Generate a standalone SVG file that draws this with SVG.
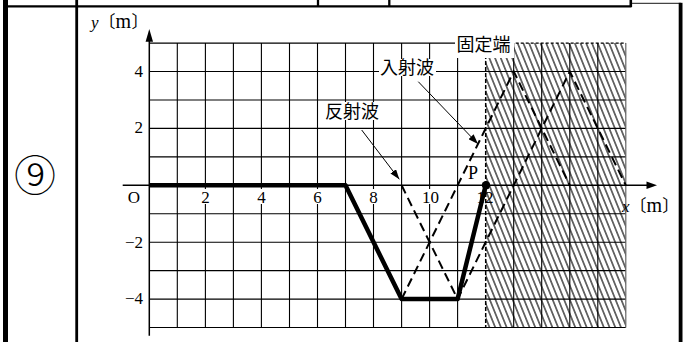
<svg xmlns="http://www.w3.org/2000/svg" width="683" height="342" viewBox="0 0 683 342">
<style>
.num{font-family:"Liberation Serif","Times New Roman",serif;font-size:17px;fill:#000}
.it{font-family:"Liberation Serif","Times New Roman",serif;font-style:italic;font-size:17px}
.br{font-family:"Noto Sans CJK JP",sans-serif;font-size:17px}
.m{font-size:20px}
.jp{font-family:"Noto Sans CJK JP","Noto Sans CJK SC",sans-serif;font-size:18px;fill:#000}
.grid{fill:none;stroke:#000;stroke-width:1.1}
.bg{fill:#fff;stroke:none}
.dash{fill:none;stroke:#000;stroke-width:2;stroke-dasharray:9 5}
</style>
<defs>
<pattern id="hatch" patternUnits="userSpaceOnUse" width="5.3" height="20" patternTransform="rotate(-22)">
<line x1="2.65" y1="-1" x2="2.65" y2="21" stroke="#000" stroke-width="1.1"/>
</pattern>
<marker id="ah" viewBox="0 0 10 7" refX="10" refY="3.5" markerUnits="userSpaceOnUse" markerWidth="10" markerHeight="7" orient="auto">
<path d="M0,0 L10,3.5 L0,7 z" fill="#000"/>
</marker>
</defs>
<rect width="683" height="342" fill="#fff"/>
<g id="table">
<rect x="3" y="0" width="5" height="342" fill="#000"/>
<rect x="75.3" y="0" width="2.8" height="342" fill="#000"/>
<line x1="3" y1="6.3" x2="631.5" y2="6.3" stroke="#000" stroke-width="2.3"/>
<line x1="318" y1="0" x2="318" y2="6.3" stroke="#000" stroke-width="2.3"/>
<line x1="389.3" y1="0" x2="389.3" y2="6.3" stroke="#000" stroke-width="2.3"/>
<line x1="630.8" y1="0" x2="630.8" y2="7" stroke="#000" stroke-width="2.6"/>
<line x1="632" y1="3.4" x2="681" y2="3.4" stroke="#444" stroke-width="1.2"/>
<rect x="678.7" y="2.8" width="3.8" height="339.2" fill="#000"/>
</g>
<g id="number">
<text x="35" y="191" text-anchor="middle" style="font-family:'Noto Sans CJK JP',sans-serif;font-size:42px;font-weight:300">⑨</text>
</g>
<g id="chart">
<rect id="wall" x="485.7" y="43.1" width="140.1" height="284.4" fill="url(#hatch)"/>
<path class="grid" d="M177.3,43.1V327.5M205.4,43.1V327.5M233.4,43.1V327.5M261.4,43.1V327.5M289.5,43.1V327.5M317.5,43.1V327.5M345.5,43.1V327.5M373.5,43.1V327.5M401.6,43.1V327.5M429.6,43.1V327.5M457.6,43.1V327.5M513.7,43.1V327.5M541.7,43.1V327.5M569.8,43.1V327.5M597.8,43.1V327.5"/>
<path class="grid" d="M149.3,43.1H485.7M149.3,71.5H625.8M149.3,100H625.8M149.3,128.4H625.8M149.3,156.9H625.8M149.3,213.7H625.8M149.3,242.2H625.8M149.3,270.6H625.8M149.3,299.1H625.8M149.3,327.5H625.8"/>
<line x1="485.7" y1="43.1" x2="625.8" y2="43.1" stroke="#000" stroke-width="1.1" stroke-dasharray="3 2"/>
<line x1="625.8" y1="43.1" x2="625.8" y2="327.5" stroke="#666" stroke-width="1.2"/>
<line id="fixed-end" x1="485.7" y1="43.1" x2="485.7" y2="327.5" stroke="#000" stroke-width="1.5" stroke-dasharray="4 2"/>
<g id="axes">
<line x1="149.3" y1="335.7" x2="149.3" y2="40" stroke="#000" stroke-width="1.5"/>
<polygon points="149.3,29 145.6,41.7 153,41.7" fill="#000"/>
<line x1="122.7" y1="185.3" x2="648" y2="185.3" stroke="#000" stroke-width="1.5"/>
<polygon points="657,185.3 646.5,181.6 646.5,189" fill="#000"/>
</g>
<g id="ticks">
<rect class="bg" x="200.4" y="189" width="10" height="15"/>
<rect class="bg" x="256.4" y="189" width="10" height="15"/>
<rect class="bg" x="312.5" y="189" width="10" height="15"/>
<rect class="bg" x="368.5" y="189" width="10" height="15"/>
<rect class="bg" x="420.5" y="189" width="19" height="15"/>
<text class="num" x="134" y="202.5" text-anchor="middle">O</text>
<text class="num" x="205.4" y="202.5" text-anchor="middle">2</text>
<text class="num" x="261.4" y="202.5" text-anchor="middle">4</text>
<text class="num" x="317.5" y="202.5" text-anchor="middle">6</text>
<text class="num" x="373.5" y="202.5" text-anchor="middle">8</text>
<text class="num" x="430.5" y="202.5" text-anchor="middle">10</text>
<text class="num" x="485" y="202.5" text-anchor="middle">12</text>
<text class="num" x="143" y="77.3" text-anchor="end">4</text>
<text class="num" x="143" y="133" text-anchor="end">2</text>
<text class="num" x="143" y="247.5" text-anchor="end">−2</text>
<text class="num" x="143" y="304" text-anchor="end">−4</text>
</g>
<text id="ylabel" class="num" y="28"><tspan class="it" x="91">y</tspan><tspan class="br" x="98.5">〔</tspan><tspan class="m" x="115.5">m</tspan><tspan class="br" x="131.5">〕</tspan></text>
<text id="xlabel" class="num" y="212"><tspan class="it" x="622">x</tspan><tspan class="br" x="629.5">〔</tspan><tspan class="m" x="646.5">m</tspan><tspan class="br" x="662.2">〕</tspan></text>
<g id="waves">
<polyline id="incident" class="dash" points="401.6,299.1 513.7,71.5 569.8,185.3"/>
<polyline id="reflected" class="dash" points="401.6,185.3 457.6,299.1 569.8,71.5 625.8,185.3"/>
<polyline id="composite" points="149.3,185.3 345.5,185.3 401.6,299.1 457.6,299.1 485.7,185.3" fill="none" stroke="#000" stroke-width="4.5" stroke-linejoin="round"/>
<circle cx="486" cy="185.3" r="4.2" fill="#000"/>
<text class="num" x="468" y="178.5" style="font-size:18px">P</text>
</g>
</g>
<g id="label-kotei">
<rect class="bg" x="455" y="28" width="59" height="30"/>
<text class="jp" x="456.5" y="51">固定端</text>
</g>
<g id="label-nyusha">
<rect class="bg" x="379" y="59" width="57" height="17"/>
<text class="jp" x="380" y="74">入射波</text>
</g>
<g id="label-hansha">
<rect class="bg" x="324" y="102" width="57" height="18"/>
<text class="jp" x="325" y="118">反射波</text>
</g>
<g id="connectors">
<line x1="418.3" y1="81.7" x2="478" y2="144" stroke="#000" stroke-width="1" marker-end="url(#ah)"/>
<line x1="361.7" y1="130" x2="399.3" y2="179.3" stroke="#000" stroke-width="1" marker-end="url(#ah)"/>
</g>
</svg>
